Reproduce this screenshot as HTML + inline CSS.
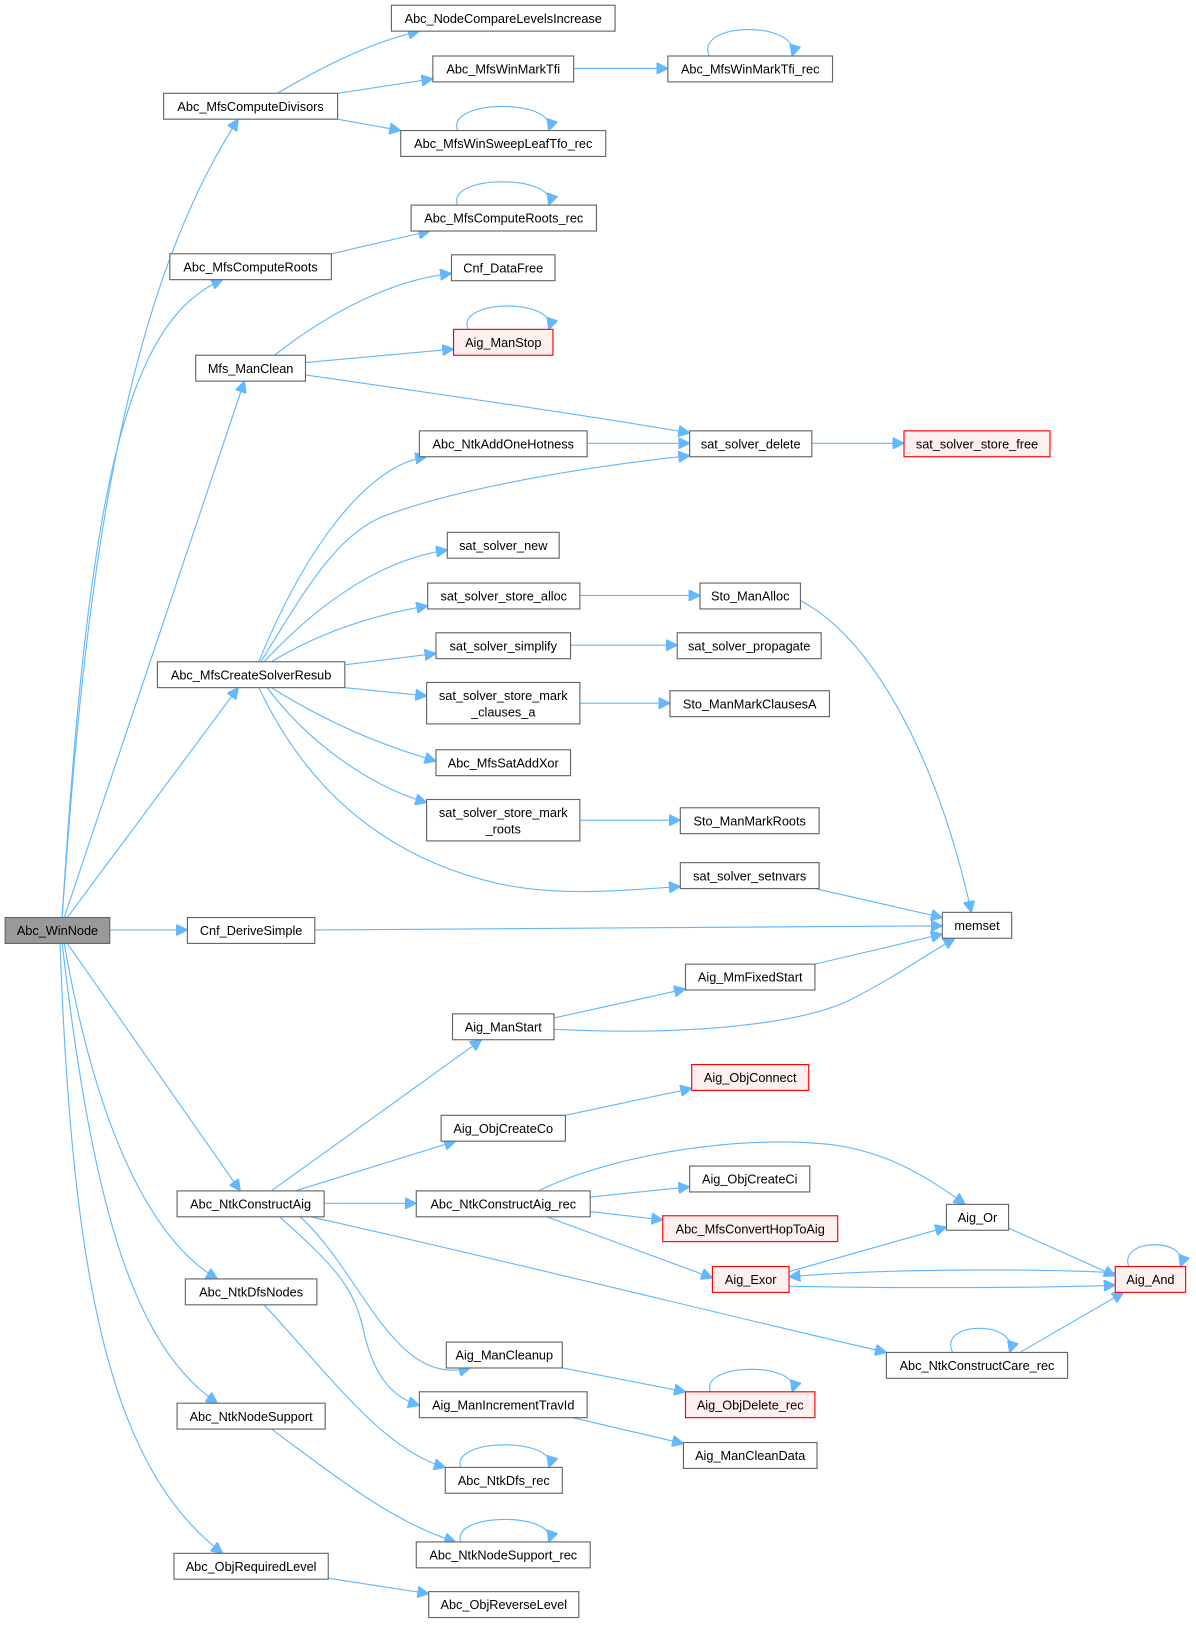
<!DOCTYPE html>
<html><head><meta charset="utf-8"><style>
html,body{margin:0;padding:0;background:#fff;}
svg{display:block}
text{font-family:"Liberation Sans",Arial,sans-serif;font-size:12.3px;fill:#000;text-anchor:middle}
.n{fill:#fff;stroke:#666;stroke-width:1.1}
.r{fill:#fff0f0;stroke:#ff0000;stroke-width:1.1}
.g{fill:#999;stroke:#666;stroke-width:1.1}
path{fill:none;stroke:#63b8ff;stroke-width:1.1}
</style></head><body>
<svg width="1196" height="1629" viewBox="0 0 1155 1573" xmlns="http://www.w3.org/2000/svg">
<defs><marker id="a" viewBox="0 0 10 10" refX="10" refY="5" markerWidth="11" markerHeight="11" markerUnits="userSpaceOnUse" orient="auto"><path d="M0,0 L10,5 L0,10 z" style="fill:#63b8ff;stroke:#63b8ff"/></marker></defs>
<g marker-end="url(#a)">
<path d="M60,886 C80,600 110,300 230,115"/>
<path d="M60,886 C85,480 120,310 215,270"/>
<path d="M62,886 L236,368"/>
<path d="M65,886 L230,664"/>
<path d="M106,898 L181,898"/>
<path d="M65,911 L232,1150"/>
<path d="M62,911 C95,1100 150,1200 210,1235"/>
<path d="M60,911 C90,1170 130,1300 210,1355"/>
<path d="M58,911 C70,1250 110,1420 215,1500"/>
<path d="M268,90 C310,65 360,40 405,30"/>
<path d="M326,90 L418,76"/>
<path d="M326,115 L387,126"/>
<path d="M554,66 L645,66"/>
<path d="M685,54 C670,20 775,20 765,54"/>
<path d="M442,126 C430,95 540,95 530,126"/>
<path d="M320,245 L415,223"/>
<path d="M442,198 C430,168 540,168 530,198"/>
<path d="M265,343 C320,300 380,270 436,264"/>
<path d="M295,350 L438,337"/>
<path d="M452,318 C440,288 540,288 530,318"/>
<path d="M295,362 C420,380 560,400 666,418"/>
<path d="M567,428 L666,428"/>
<path d="M784,428 L873,428"/>
<path d="M250,639 C290,540 350,450 412,441"/>
<path d="M252,639 C300,560 330,510 380,495 C450,470 570,450 666,440"/>
<path d="M255,639 C310,580 370,540 432,531"/>
<path d="M262,639 C310,610 360,594 413,585"/>
<path d="M333,642 L421,631"/>
<path d="M333,664 L412,672"/>
<path d="M262,664 C320,700 370,720 421,735"/>
<path d="M258,664 C300,720 360,760 412,775"/>
<path d="M250,664 C300,770 380,830 480,853 C540,866 600,860 657,856"/>
<path d="M560,575 L676,575"/>
<path d="M773,580 C850,620 910,750 938,881"/>
<path d="M551,623 L654,623"/>
<path d="M560,679 L647,679"/>
<path d="M560,792 L657,792"/>
<path d="M787,858 L910,886"/>
<path d="M304,898 L910,894"/>
<path d="M787,931 L910,902"/>
<path d="M535,983 L662,955"/>
<path d="M535,994 C660,1000 770,990 820,966 C860,946 890,925 922,906"/>
<path d="M546,1077 L668,1051"/>
<path d="M262,1150 L465,1004"/>
<path d="M285,1150 L440,1102"/>
<path d="M313,1162 L402,1162"/>
<path d="M290,1175 C350,1230 380,1340 454,1321"/>
<path d="M270,1175 C320,1220 340,1240 350,1280 C360,1330 380,1350 405,1357"/>
<path d="M300,1175 C500,1220 700,1270 856,1306"/>
<path d="M520,1150 C580,1120 700,1095 800,1105 C860,1112 900,1140 932,1163"/>
<path d="M570,1156 L666,1146"/>
<path d="M570,1170 L640,1178"/>
<path d="M528,1175 L688,1234"/>
<path d="M762,1228 L914,1185"/>
<path d="M974,1186 L1077,1232"/>
<path d="M1077,1229 C1000,1225 850,1225 762,1233"/>
<path d="M762,1242 C850,1244 1000,1244 1077,1241"/>
<path d="M1090,1223 C1080,1195 1150,1195 1140,1223"/>
<path d="M985,1306 L1085,1248"/>
<path d="M920,1306 C905,1275 985,1275 975,1306"/>
<path d="M543,1321 L662,1344"/>
<path d="M686,1344 C676,1315 775,1315 765,1344"/>
<path d="M553,1369 L660,1394"/>
<path d="M255,1260 C320,1330 370,1400 430,1417"/>
<path d="M445,1417 C435,1388 540,1388 530,1417"/>
<path d="M262,1380 C330,1430 380,1470 440,1489"/>
<path d="M445,1489 C435,1460 540,1460 530,1489"/>
<path d="M317,1524 L414,1539"/>
</g>
<g>
<rect class="g" x="5" y="886" width="101" height="25"/><text x="55.5" y="903">Abc_WinNode</text>
<rect class="n" x="158" y="90" width="168" height="25"/><text x="242" y="107">Abc_MfsComputeDivisors</text>
<rect class="n" x="378" y="5" width="216" height="25"/><text x="486" y="22">Abc_NodeCompareLevelsIncrease</text>
<rect class="n" x="418" y="54" width="136" height="25"/><text x="486" y="71">Abc_MfsWinMarkTfi</text>
<rect class="n" x="645" y="54" width="159" height="25"/><text x="724.5" y="71">Abc_MfsWinMarkTfi_rec</text>
<rect class="n" x="387" y="126" width="198" height="25"/><text x="486" y="143">Abc_MfsWinSweepLeafTfo_rec</text>
<rect class="n" x="397" y="198" width="179" height="25"/><text x="486.5" y="215">Abc_MfsComputeRoots_rec</text>
<rect class="n" x="164" y="245" width="156" height="25"/><text x="242" y="262">Abc_MfsComputeRoots</text>
<rect class="n" x="436" y="246" width="100" height="25"/><text x="486" y="263">Cnf_DataFree</text>
<rect class="n" x="189" y="343" width="106" height="25"/><text x="242" y="360">Mfs_ManClean</text>
<rect class="r" x="438" y="318" width="96" height="25"/><text x="486" y="335">Aig_ManStop</text>
<rect class="n" x="405" y="416" width="162" height="25"/><text x="486" y="433">Abc_NtkAddOneHotness</text>
<rect class="n" x="666" y="416" width="118" height="25"/><text x="725" y="433">sat_solver_delete</text>
<rect class="r" x="873" y="416" width="141" height="25"/><text x="943.5" y="433">sat_solver_store_free</text>
<rect class="n" x="432" y="514" width="108" height="25"/><text x="486" y="531">sat_solver_new</text>
<rect class="n" x="413" y="563" width="147" height="25"/><text x="486.5" y="580">sat_solver_store_alloc</text>
<rect class="n" x="676" y="563" width="97" height="25"/><text x="724.5" y="580">Sto_ManAlloc</text>
<rect class="n" x="152" y="639" width="181" height="25"/><text x="242.5" y="656">Abc_MfsCreateSolverResub</text>
<rect class="n" x="421" y="611" width="130" height="25"/><text x="486" y="628">sat_solver_simplify</text>
<rect class="n" x="654" y="611" width="139" height="25"/><text x="723.5" y="628">sat_solver_propagate</text>
<rect class="n" x="412" y="659" width="148" height="40"/><text x="486" y="676">sat_solver_store_mark</text><text x="486" y="692">_clauses_a</text>
<rect class="n" x="647" y="667" width="154" height="25"/><text x="724" y="684">Sto_ManMarkClausesA</text>
<rect class="n" x="421" y="724" width="130" height="25"/><text x="486" y="741">Abc_MfsSatAddXor</text>
<rect class="n" x="412" y="772" width="148" height="40"/><text x="486" y="789">sat_solver_store_mark</text><text x="486" y="805">_roots</text>
<rect class="n" x="657" y="780" width="134" height="25"/><text x="724" y="797">Sto_ManMarkRoots</text>
<rect class="n" x="657" y="833" width="134" height="25"/><text x="724" y="850">sat_solver_setnvars</text>
<rect class="n" x="910" y="881" width="67" height="25"/><text x="943.5" y="898">memset</text>
<rect class="n" x="181" y="886" width="123" height="25"/><text x="242.5" y="903">Cnf_DeriveSimple</text>
<rect class="n" x="662" y="931" width="125" height="25"/><text x="724.5" y="948">Aig_MmFixedStart</text>
<rect class="n" x="437" y="979" width="98" height="25"/><text x="486" y="996">Aig_ManStart</text>
<rect class="r" x="668" y="1028" width="113" height="25"/><text x="724.5" y="1045">Aig_ObjConnect</text>
<rect class="n" x="426" y="1077" width="120" height="25"/><text x="486" y="1094">Aig_ObjCreateCo</text>
<rect class="n" x="666" y="1126" width="116" height="25"/><text x="724" y="1143">Aig_ObjCreateCi</text>
<rect class="n" x="171" y="1150" width="142" height="25"/><text x="242" y="1167">Abc_NtkConstructAig</text>
<rect class="n" x="402" y="1150" width="168" height="25"/><text x="486" y="1167">Abc_NtkConstructAig_rec</text>
<rect class="n" x="914" y="1163" width="60" height="25"/><text x="944" y="1180">Aig_Or</text>
<rect class="r" x="640" y="1174" width="169" height="25"/><text x="724.5" y="1191">Abc_MfsConvertHopToAig</text>
<rect class="r" x="688" y="1223" width="74" height="25"/><text x="725" y="1240">Aig_Exor</text>
<rect class="r" x="1077" y="1223" width="68" height="25"/><text x="1111" y="1240">Aig_And</text>
<rect class="n" x="179" y="1235" width="127" height="25"/><text x="242.5" y="1252">Abc_NtkDfsNodes</text>
<rect class="n" x="856" y="1306" width="175" height="25"/><text x="943.5" y="1323">Abc_NtkConstructCare_rec</text>
<rect class="n" x="431" y="1296" width="112" height="25"/><text x="487" y="1313">Aig_ManCleanup</text>
<rect class="r" x="662" y="1344" width="125" height="25"/><text x="724.5" y="1361">Aig_ObjDelete_rec</text>
<rect class="n" x="405" y="1344" width="162" height="25"/><text x="486" y="1361">Aig_ManIncrementTravId</text>
<rect class="n" x="660" y="1393" width="129" height="25"/><text x="724.5" y="1410">Aig_ManCleanData</text>
<rect class="n" x="171" y="1355" width="143" height="25"/><text x="242.5" y="1372">Abc_NtkNodeSupport</text>
<rect class="n" x="430" y="1417" width="113" height="25"/><text x="486.5" y="1434">Abc_NtkDfs_rec</text>
<rect class="n" x="402" y="1489" width="168" height="25"/><text x="486" y="1506">Abc_NtkNodeSupport_rec</text>
<rect class="n" x="168" y="1500" width="149" height="25"/><text x="242.5" y="1517">Abc_ObjRequiredLevel</text>
<rect class="n" x="414" y="1537" width="145" height="25"/><text x="486.5" y="1554">Abc_ObjReverseLevel</text>
</g>
</svg>
</body></html>
